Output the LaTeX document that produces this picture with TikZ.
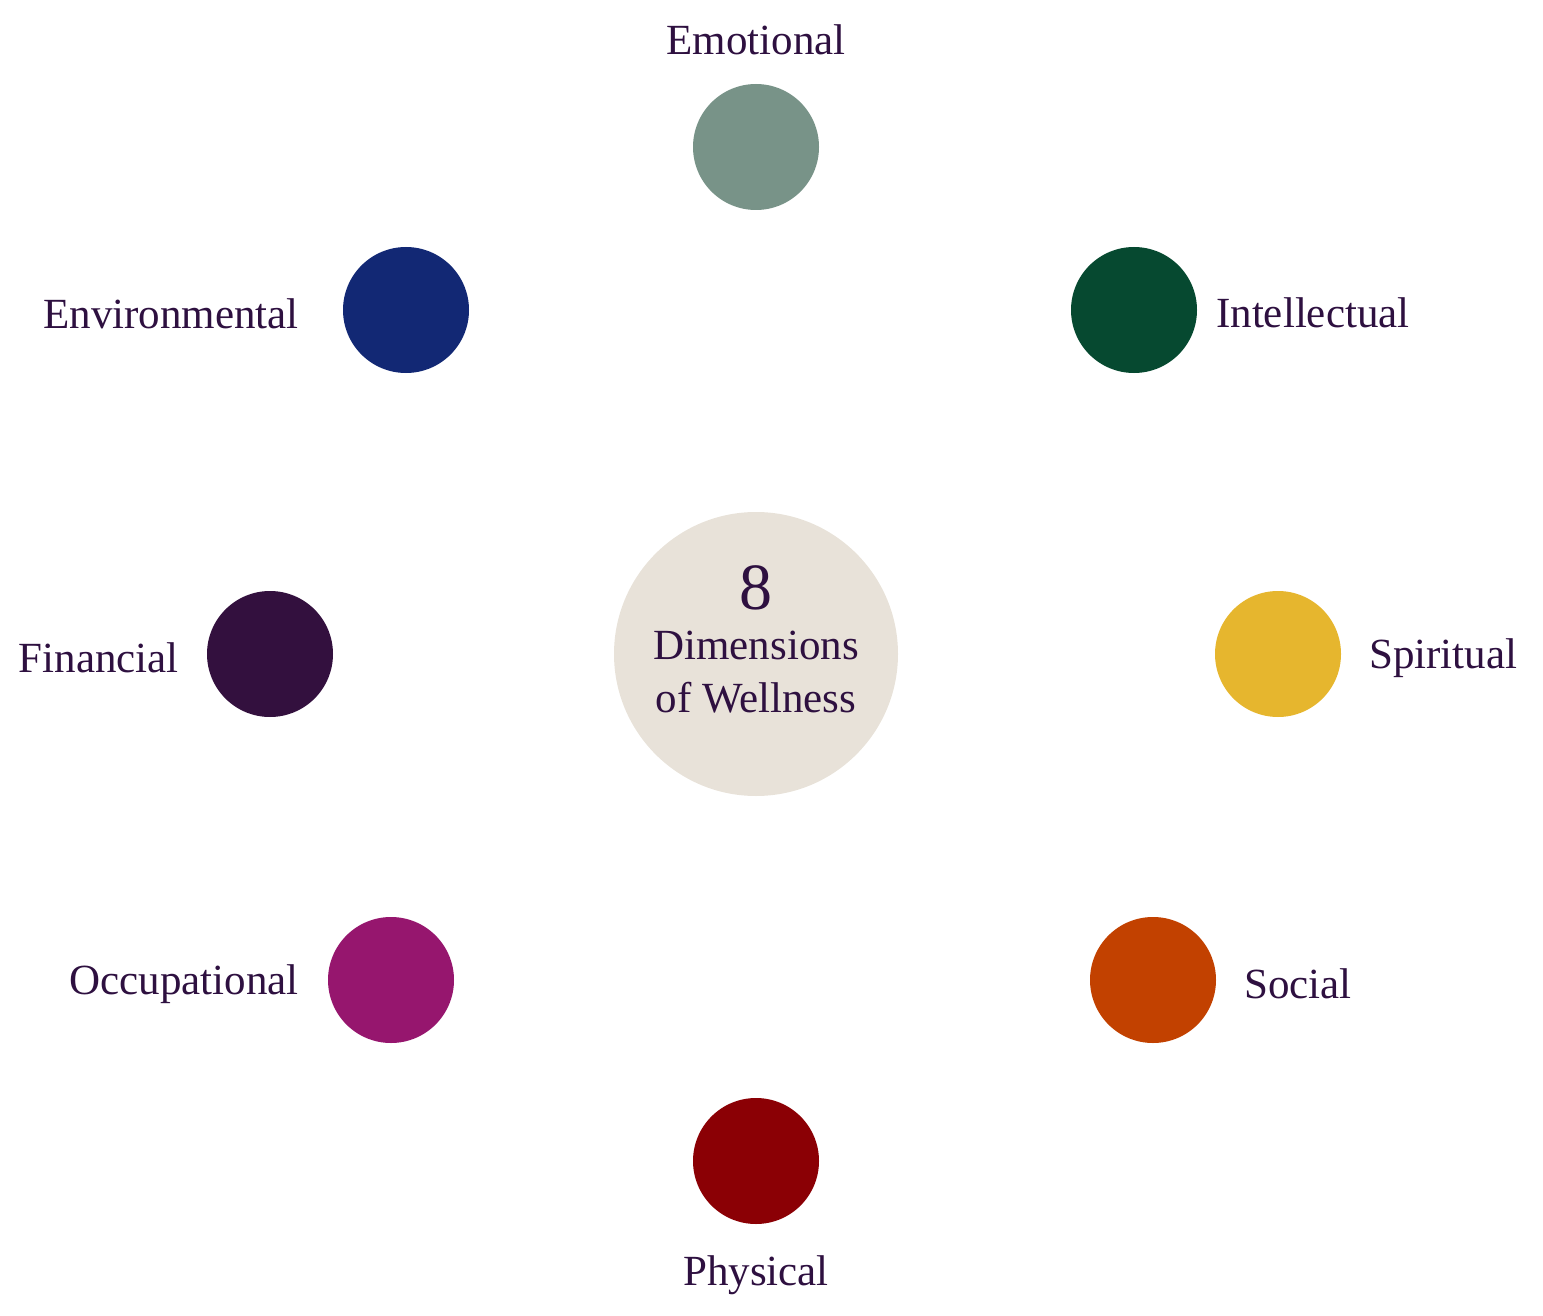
\documentclass[tikz,border=0pt]{standalone}
\usepackage{fontspec}
\setmainfont{Liberation Serif}
\definecolor{txt}{HTML}{2E1040}
\definecolor{cEmo}{HTML}{789388}
\definecolor{cInt}{HTML}{064930}
\definecolor{cSpi}{HTML}{E6B62E}
\definecolor{cSoc}{HTML}{C24100}
\definecolor{cPhy}{HTML}{8B0005}
\definecolor{cOcc}{HTML}{96166E}
\definecolor{cFin}{HTML}{33103E}
\definecolor{cEnv}{HTML}{122874}
\definecolor{cCen}{HTML}{E8E2D9}
\tikzset{
  dim/.style={circle, minimum size=126pt, inner sep=0pt, draw=none},
  lab/.style={text=txt, font=\fontsize{43}{50}\selectfont, inner sep=0pt},
}
\begin{document}
\begin{tikzpicture}[x=1pt,y=-1pt]
\useasboundingbox (0,0) rectangle (1543,1316);
\node[circle, minimum size=284pt, fill=cCen, inner sep=0pt] (center) at (756,654) {};
\node[lab, font=\fontsize{66}{70}\selectfont] (eight) at (756,588) {8};
\node[lab, align=center, font=\fontsize{43}{53}\selectfont] (ctext) at (756,672) {Dimensions\\of Wellness};

\node[dim, fill=cEmo] (emo) at (756,147) {};
\node[dim, fill=cInt] (int) at (1134,310) {};
\node[dim, fill=cSpi] (spi) at (1278,654) {};
\node[dim, fill=cSoc] (soc) at (1153,980) {};
\node[dim, fill=cPhy] (phy) at (756,1161) {};
\node[dim, fill=cOcc] (occ) at (391,980) {};
\node[dim, fill=cFin] (fin) at (270,654) {};
\node[dim, fill=cEnv] (env) at (406,310) {};

\node[lab] (lemo) at (756,40) {Emotional};
\node[lab, anchor=west] (lint) at (1216,313) {Intellectual};
\node[lab, anchor=west] (lspi) at (1369,658) {Spiritual};
\node[lab, anchor=west] (lsoc) at (1244,984) {Social};
\node[lab] (lphy) at (756,1275) {Physical};
\node[lab, anchor=east] (locc) at (299,984) {Occupational};
\node[lab, anchor=east] (lfin) at (179,658) {Financial};
\node[lab, anchor=east] (lenv) at (299,314) {Environmental};
\end{tikzpicture}
\end{document}
